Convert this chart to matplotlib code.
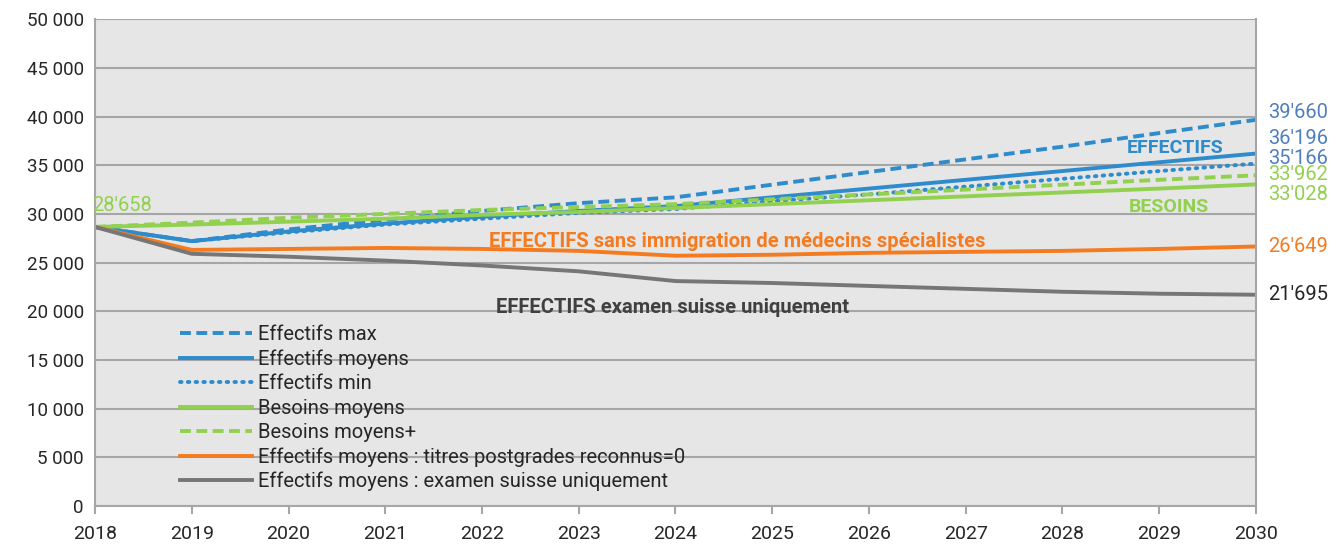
import matplotlib
matplotlib.use("Agg")
import matplotlib.pyplot as plt
from matplotlib.ticker import FuncFormatter

plt.rcParams["font.family"] = ["Roboto", "DejaVu Sans"]

years = list(range(2018, 2031))

eff_max = [28658, 27200, 28400, 29400, 30300, 31100, 31700, 33000, 34300, 35600, 36900, 38300, 39660]
eff_moy = [28658, 27200, 28200, 29000, 29700, 30300, 30800, 31700, 32600, 33500, 34400, 35300, 36196]
eff_min = [28658, 27200, 28100, 28900, 29500, 30100, 30500, 31300, 32000, 32800, 33600, 34400, 35166]
bes_moy = [28658, 28900, 29200, 29500, 29900, 30200, 30600, 31000, 31400, 31800, 32200, 32600, 33028]
bes_plus = [28658, 29100, 29600, 30000, 30400, 30700, 31000, 31500, 32000, 32500, 33000, 33500, 33962]
eff_sans_immig = [28658, 26300, 26400, 26500, 26400, 26200, 25700, 25800, 26000, 26100, 26200, 26400, 26649]
eff_suisse = [28658, 25900, 25600, 25200, 24700, 24100, 23100, 22900, 22600, 22300, 22000, 21800, 21695]

BLUE = "#2e8bcc"
BLUE_TXT = "#4f7fbd"
GREEN = "#92d050"
ORANGE = "#f47b20"
GREY = "#767676"
TXT = "#262626"

fig = plt.figure(figsize=(13.44, 5.47), dpi=100)
ax = fig.add_axes([0.0707, 0.075, 0.8638, 0.890])
ax.set_facecolor("#e6e6e6")

lw = 2.8
dash = (0, (2.8, 1.4))
ax.plot(years, eff_max, color=BLUE, lw=lw, ls=dash, label="Effectifs max")
ax.plot(years, eff_moy, color=BLUE, lw=lw, label="Effectifs moyens")
ax.plot(years, eff_min, color=BLUE, lw=lw, ls=(0, (0.4, 1.6)), dash_capstyle="round",
        label="Effectifs min")
ax.plot(years, bes_moy, color=GREEN, lw=lw, label="Besoins moyens")
ax.plot(years, bes_plus, color=GREEN, lw=lw, ls=dash, label="Besoins moyens+")
ax.plot(years, eff_sans_immig, color=ORANGE, lw=lw,
        label="Effectifs moyens : titres postgrades reconnus=0")
ax.plot(years, eff_suisse, color=GREY, lw=lw,
        label="Effectifs moyens : examen suisse uniquement")

ax.set_xlim(2018, 2030)
ax.set_ylim(0, 50000)
ax.set_xticks(years)
ax.set_yticks(range(0, 50001, 5000))
ax.yaxis.set_major_formatter(FuncFormatter(lambda v, p: f"{int(v):,}".replace(",", " ")))
ax.grid(axis="y", color="#a6a6a6", lw=1.5)
ax.set_axisbelow(True)
ax.tick_params(axis="y", length=0, labelsize=13.5, colors=TXT, pad=8)
ax.tick_params(axis="x", length=6, width=1.5, color="#a6a6a6", labelsize=14,
               colors=TXT, pad=8)
for side in ("left", "right", "bottom"):
    ax.spines[side].set_color("#a6a6a6")
    ax.spines[side].set_linewidth(1.5)
ax.spines["top"].set_visible(False)

# end labels (offsets keep them apart)
ends = [(eff_max, "39'660", BLUE_TXT, 800), (eff_moy, "36'196", BLUE_TXT, 1500),
        (eff_min, "35'166", BLUE_TXT, 560), (bes_plus, "33'962", GREEN, 130),
        (bes_moy, "33'028", GREEN, -1000), (eff_sans_immig, "26'649", ORANGE, 0),
        (eff_suisse, "21'695", TXT, 0)]
for series, txt, col, dy in ends:
    ax.text(2030.13, series[-1] + dy, txt, color=col, fontsize=14.5, va="center",
            ha="left", clip_on=False)
ax.text(2017.97, eff_moy[0] + 2250, "28'658", color=GREEN, fontsize=14.5, va="center",
        ha="left", clip_on=False)

ax.text(2029.16, 36760, "EFFECTIFS", color=BLUE, fontsize=14, fontweight="bold",
        ha="center", va="center")
ax.text(2029.1, 30700, "BESOINS", color=GREEN, fontsize=14, fontweight="bold",
        ha="center", va="center")
ax.text(2024.64, 27200, "EFFECTIFS sans immigration de médecins spécialistes", color=ORANGE,
        fontsize=14.5, fontweight="bold", ha="center", va="center")
ax.text(2023.97, 20430, "EFFECTIFS examen suisse uniquement", color="#404040",
        fontsize=14.5, fontweight="bold", ha="center", va="center")

leg = ax.legend(loc="upper left", bbox_to_anchor=(0.073, 0.371), frameon=False,
                fontsize=14.5, handlelength=3.6, labelspacing=0.26, handletextpad=0.3,
                borderpad=0, borderaxespad=0)
for t in leg.get_texts():
    t.set_color(TXT)

fig.savefig("out.png", dpi=100, facecolor="white")
